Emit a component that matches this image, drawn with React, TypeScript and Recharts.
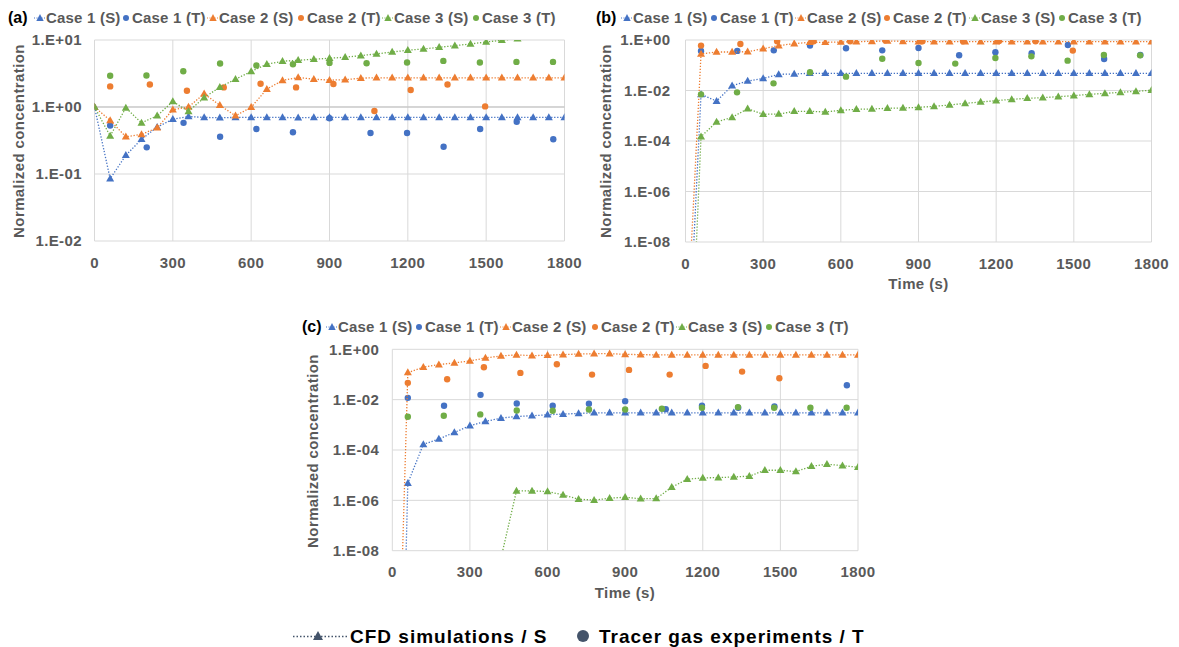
import React from 'react';
import { ScatterChart, Scatter, XAxis, YAxis, CartesianGrid, ReferenceLine } from 'recharts';

const FONT = '"Liberation Sans", Arial, Helvetica, sans-serif';
const BLUE = '#4472C4';
const ORANGE = '#ED7D31';
const GREEN = '#70AD47';
const LEGEND_DARK = '#44546A';
const TEXT_GRAY = '#595959';

// ---- categories / tick labels ----
const simTimes = [0, 60, 120, 180, 240, 300, 360, 420, 480, 540, 600, 660, 720, 780, 840, 900, 960, 1020, 1080, 1140, 1200, 1260, 1320, 1380, 1440, 1500, 1560, 1620, 1680, 1740, 1800];
const tracerTimes1 = [60, 200, 341, 481, 620, 760, 900, 1057, 1197, 1337, 1477, 1617, 1757];
const tracerTimes2 = [60, 212, 354, 495, 636, 772, 915, 1072, 1211, 1352, 1496];
const tracerTimes3 = [60, 199, 340, 481, 620, 760, 900, 1042, 1197, 1336, 1476, 1616, 1756];
const xTicks = [0, 300, 600, 900, 1200, 1500, 1800];
const yTicksA = [0.01, 0.1, 1, 10];
const yTicksBC = [1e-8, 1e-6, 1e-4, 1e-2, 1];
const legendNames = ['Case 1 (S)', 'Case 1 (T)', 'Case 2 (S)', 'Case 2 (T)', 'Case 3 (S)', 'Case 3 (T)'];

// ---- panel (a) ----
const aCase1S = [1, 0.085, 0.19, 0.33, 0.5, 0.66, 0.72, 0.7, 0.69, 0.7, 0.7, 0.7, 0.7, 0.69, 0.7, 0.7, 0.7, 0.7, 0.7, 0.7, 0.7, 0.7, 0.7, 0.7, 0.7, 0.7, 0.7, 0.7, 0.7, 0.7, 0.7];
const aCase1T = [0.53, 0.25, 0.58, 0.36, 0.47, 0.42, 0.68, 0.41, 0.41, 0.255, 0.47, 0.6, 0.33];
const aCase2S = [1, 0.63, 0.36, 0.39, 0.49, 0.91, 1.0, 1.58, 1.06, 0.74, 0.99, 1.85, 2.49, 2.76, 2.6, 2.52, 2.55, 2.7, 2.73, 2.73, 2.73, 2.73, 2.73, 2.73, 2.73, 2.73, 2.73, 2.73, 2.73, 2.73, 2.73];
const aCase2T = [2.03, 2.17, 1.75, 1.96, 2.22, 1.96, 2.2, 0.87, 1.79, 2.17, 1.02];
const aCase3S = [1, 0.37, 0.97, 0.58, 0.74, 1.21, 0.86, 1.38, 1.98, 2.6, 3.39, 4.35, 4.82, 4.99, 5.16, 5.34, 5.53, 5.85, 6.2, 6.63, 7.03, 7.35, 7.78, 8.24, 8.73, 9.34, 9.89, 10.5, 11.1, 11.7, 12.3];
const aCase3T = [2.92, 2.95, 3.42, 4.45, 4.16, 4.35, 4.55, 4.5, 4.61, 4.88, 4.61, 4.71, 4.71];

// ---- panel (b) ----
const bCase1S = [2e-15, 0.007, 0.0038, 0.0155, 0.0238, 0.03, 0.0437, 0.045, 0.048, 0.048, 0.048, 0.048, 0.048, 0.048, 0.048, 0.048, 0.048, 0.048, 0.048, 0.048, 0.048, 0.048, 0.048, 0.048, 0.048, 0.048, 0.048, 0.048, 0.048, 0.048, 0.048];
const bCase1T = [0.37, 0.37, 0.39, 0.6, 0.47, 0.39, 0.48, 0.25, 0.325, 0.3, 0.63, 0.177, 0.255];
const bCase2S = [2e-13, 0.28, 0.335, 0.335, 0.345, 0.45, 0.6, 0.72, 0.81, 0.81, 0.83, 0.86, 0.885, 0.91, 0.885, 0.86, 0.86, 0.86, 0.86, 0.86, 0.86, 0.86, 0.86, 0.86, 0.86, 0.86, 0.86, 0.86, 0.86, 0.86, 0.86];
const bCase2T = [0.6, 0.69, 0.885, 0.885, 0.885, 0.97, 0.885, 0.885, 0.91, 0.885, 0.38];
const bCase3S = [1e-18, 1.49e-4, 5.65e-4, 8.65e-4, 1.91e-3, 1.14e-3, 1.17e-3, 1.5e-3, 1.5e-3, 1.41e-3, 1.64e-3, 1.8e-3, 1.85e-3, 1.97e-3, 2.03e-3, 2.15e-3, 2.36e-3, 2.67e-3, 3.1e-3, 3.51e-3, 3.96e-3, 4.47e-3, 4.9e-3, 5.2e-3, 5.7e-3, 6.24e-3, 7.05e-3, 7.7e-3, 8.46e-3, 9.27e-3, 1.02e-2];
const bCase3T = [7.05e-3, 8.46e-3, 0.0192, 0.0525, 0.0353, 0.182, 0.123, 0.116, 0.194, 0.225, 0.152, 0.255, 0.247];

// ---- panel (c) ----
const cCase1S = [1e-30, 4.8e-6, 1.68e-4, 2.73e-4, 5.0e-4, 9.2e-4, 1.37e-3, 1.85e-3, 2.15e-3, 2.29e-3, 2.51e-3, 2.67e-3, 2.83e-3, 3.0e-3, 3.0e-3, 3.0e-3, 3.0e-3, 3.0e-3, 3.0e-3, 3.0e-3, 3.0e-3, 3.0e-3, 3.0e-3, 3.0e-3, 3.0e-3, 3.0e-3, 3.0e-3, 3.0e-3, 3.0e-3, 3.0e-3, 3.0e-3];
const cCase1T = [0.0118, 5.7e-3, 0.0155, 7.05e-3, 5.7e-3, 6.84e-3, 8.7e-3, 4.2e-3, 5.7e-3, 4.75e-3, 5.36e-3, null, 0.0375];
const cCase2S = [1e-22, 0.119, 0.194, 0.247, 0.288, 0.345, 0.454, 0.545, 0.6, 0.56, 0.58, 0.615, 0.65, 0.67, 0.67, 0.63, 0.615, 0.6, 0.6, 0.6, 0.6, 0.6, 0.6, 0.6, 0.6, 0.6, 0.6, 0.6, 0.6, 0.6, 0.6];
const cCase2T = [0.0464, 0.0649, 0.194, 0.1155, 0.255, 0.099, 0.152, 0.099, 0.219, 0.13, 0.071];
const cCase3S = [1e-30, 1e-30, 1e-30, 1e-30, 1e-30, 1e-30, 1e-30, 5e-9, 2.38e-6, 2.38e-6, 2.24e-6, 1.65e-6, 1.11e-6, 1.02e-6, 1.22e-6, 1.33e-6, 1.15e-6, 1.18e-6, 3.32e-6, 6.9e-6, 7.8e-6, 8.0e-6, 8.5e-6, 9.1e-6, 1.57e-5, 1.57e-5, 1.39e-5, 2.26e-5, 2.71e-5, 2.4e-5, 2.06e-5];
const cCase3T = [2.09e-3, 2.29e-3, 2.59e-3, 3.72e-3, 3.61e-3, 4.08e-3, 4.08e-3, 4.34e-3, 4.75e-3, 5.05e-3, 4.75e-3, 4.75e-3, 4.75e-3];

type Pt = { x: number; y: number };
const zip = (ts: number[], vs: (number | null)[]): Pt[] =>
  ts.map((t, i) => ({ x: t, y: vs[i] as number })).filter((p) => p.y != null);

interface SeriesDef {
  color: string;
  kind: 'S' | 'T';
  data: Pt[];
}

const makeSeries = (s1: number[], t1: (number | null)[], s2: number[], t2: number[], s3: number[], t3: number[]): SeriesDef[] => [
  { color: BLUE, kind: 'S', data: zip(simTimes, s1) },
  { color: BLUE, kind: 'T', data: zip(tracerTimes1, t1) },
  { color: ORANGE, kind: 'S', data: zip(simTimes, s2) },
  { color: ORANGE, kind: 'T', data: zip(tracerTimes2, t2) },
  { color: GREEN, kind: 'S', data: zip(simTimes, s3) },
  { color: GREEN, kind: 'T', data: zip(tracerTimes3, t3) },
];

const seriesA = makeSeries(aCase1S, aCase1T, aCase2S, aCase2T, aCase3S, aCase3T);
const seriesB = makeSeries(bCase1S, bCase1T, bCase2S, bCase2T, bCase3S, bCase3T);
const seriesC = makeSeries(cCase1S, cCase1T, cCase2S, cCase2T, cCase3S, cCase3T);

const triShape = (color: string) => (p: any) => {
  const { cx, cy } = p;
  if (!Number.isFinite(cx) || !Number.isFinite(cy)) return <g />;
  const w = 8;
  const h = 7;
  return <polygon points={`${cx},${cy - h * 0.6} ${cx - w / 2},${cy + h * 0.4} ${cx + w / 2},${cy + h * 0.4}`} fill={color} />;
};
const dotShape = (color: string) => (p: any) => {
  const { cx, cy } = p;
  if (!Number.isFinite(cx) || !Number.isFinite(cy)) return <g />;
  return <circle cx={cx} cy={cy} r={3.2} fill={color} />;
};

const fmtExp = (v: number) => {
  const e = Math.round(Math.log10(v));
  return `1.E${e < 0 ? '-' : '+'}${String(Math.abs(e)).padStart(2, '0')}`;
};

const tickStyle = { fill: TEXT_GRAY, fontSize: 15, fontWeight: 700, fontFamily: FONT, letterSpacing: 0.4 };

interface PanelProps {
  box: { l: number; t: number; w: number; h: number };
  plot: { l: number; t: number; r: number; b: number };
  yDomain: [number, number];
  yTicks: number[];
  series: SeriesDef[];
  tickGap: number;
  axisAt1?: boolean;
}

function Panel({ box, plot, yDomain, yTicks, series, tickGap, axisAt1 }: PanelProps) {
  const xAxisH = 30;
  const margin = {
    top: plot.t - box.t,
    right: box.l + box.w - plot.r,
    left: 0,
    bottom: box.t + box.h - plot.b - xAxisH,
  };
  return (
    <div style={{ position: 'absolute', left: box.l, top: box.t }}>
      <ScatterChart width={box.w} height={box.h} margin={margin}>
        <CartesianGrid stroke="#D9D9D9" strokeWidth={1} />
        <XAxis
          type="number"
          dataKey="x"
          domain={[0, 1800]}
          ticks={xTicks}
          interval={0}
          allowDataOverflow
          axisLine={false}
          tickLine={false}
          tickSize={0}
          tickMargin={16}
          height={xAxisH}
          tick={tickStyle}
        />
        <YAxis
          type="number"
          dataKey="y"
          scale="log"
          domain={yDomain}
          ticks={yTicks}
          interval={0}
          allowDataOverflow
          axisLine={false}
          tickLine={false}
          tickSize={0}
          tickMargin={tickGap}
          width={plot.l - box.l}
          tick={tickStyle}
          tickFormatter={fmtExp}
        />
        {axisAt1 && <ReferenceLine y={1} stroke="#BFBFBF" strokeWidth={1} />}
        {series.map((s, i) => (
          <Scatter
            key={i}
            data={s.data}
            fill={s.color}
            shape={s.kind === 'S' ? triShape(s.color) : dotShape(s.color)}
            line={s.kind === 'S' ? { stroke: s.color, strokeWidth: 1.3, strokeDasharray: '1.3 1.7' } : false}
            lineType="joint"
            isAnimationActive={false}
          />
        ))}
      </ScatterChart>
    </div>
  );
}

const LegendMarker = ({ color, kind }: { color: string; kind: 'S' | 'T' }) => (
  <svg width={12} height={10} style={{ display: 'block', flex: 'none' }}>
    {kind === 'S' ? (
      <>
        <line x1={0} y1={5} x2={12} y2={5} stroke={color} strokeWidth={1} strokeDasharray="1 1.5" />
        <polygon points="6,1 2.3,8 9.7,8" fill={color} />
      </>
    ) : (
      <circle cx={6} cy={5} r={3} fill={color} />
    )}
  </svg>
);

const legendColors = [BLUE, BLUE, ORANGE, ORANGE, GREEN, GREEN];
const legendKinds: ('S' | 'T')[] = ['S', 'T', 'S', 'T', 'S', 'T'];

function PanelLegend({ label, labelX, centers, y }: { label: string; labelX: number; centers: number[]; y: number }) {
  return (
    <>
      <div
        style={{
          position: 'absolute',
          left: labelX,
          top: y - 10,
          lineHeight: '20px',
          fontFamily: FONT,
          fontWeight: 700,
          fontSize: 16,
          color: '#000',
          whiteSpace: 'nowrap',
        }}
      >
        {label}
      </div>
      {centers.map((c, i) => (
        <div
          key={i}
          style={{
            position: 'absolute',
            left: c - 6,
            top: y - 10,
            height: 20,
            display: 'flex',
            alignItems: 'center',
            fontFamily: FONT,
            fontWeight: 700,
            fontSize: 15,
            lineHeight: '20px',
            letterSpacing: 0.2,
            color: TEXT_GRAY,
            whiteSpace: 'nowrap',
          }}
        >
          <LegendMarker color={legendColors[i]} kind={legendKinds[i]} />
          <span>{legendNames[i]}</span>
        </div>
      ))}
    </>
  );
}

function YTitle({ cx, cy }: { cx: number; cy: number }) {
  return (
    <div
      style={{
        position: 'absolute',
        left: cx,
        top: cy,
        transform: 'translate(-50%, -50%) rotate(-90deg)',
        fontFamily: FONT,
        fontWeight: 700,
        fontSize: 15,
        lineHeight: '20px',
        letterSpacing: 0.4,
        color: TEXT_GRAY,
        whiteSpace: 'nowrap',
      }}
    >
      Normalized concentration
    </div>
  );
}

function XTitle({ cx, cy }: { cx: number; cy: number }) {
  return (
    <div
      style={{
        position: 'absolute',
        left: cx,
        top: cy,
        transform: 'translate(-50%, -50%)',
        fontFamily: FONT,
        fontWeight: 700,
        fontSize: 15,
        lineHeight: '20px',
        letterSpacing: 0.4,
        color: TEXT_GRAY,
        whiteSpace: 'nowrap',
      }}
    >
      Time (s)
    </div>
  );
}

export default function App() {
  return (
    <div style={{ position: 'absolute', left: 0, top: 0, width: 1179, height: 647, background: '#fff', overflow: 'hidden' }}>
      <Panel
        box={{ l: 0, t: 0, w: 595, h: 290 }}
        plot={{ l: 94.5, t: 40, r: 564.5, b: 241 }}
        yDomain={[0.01, 10]}
        yTicks={yTicksA}
        series={seriesA}
        tickGap={12.5}
        axisAt1
      />
      <Panel
        box={{ l: 590, t: 0, w: 585, h: 300 }}
        plot={{ l: 685.5, t: 40, r: 1151.5, b: 242 }}
        yDomain={[1e-8, 1]}
        yTicks={yTicksBC}
        series={seriesB}
        tickGap={15}
      />
      <Panel
        box={{ l: 296, t: 310, w: 600, h: 300 }}
        plot={{ l: 392.3, t: 349.3, r: 858, b: 550.7 }}
        yDomain={[1e-8, 1]}
        yTicks={yTicksBC}
        series={seriesC}
        tickGap={13}
      />

      <PanelLegend label="(a)" labelX={8} centers={[40, 126, 213, 301, 388, 476]} y={17.5} />
      <PanelLegend label="(b)" labelX={596} centers={[627, 714, 801, 887, 975, 1062]} y={17.5} />
      <PanelLegend label="(c)" labelX={302} centers={[332, 419, 506, 595, 682, 769]} y={326.5} />

      <YTitle cx={19} cy={140.5} />
      <YTitle cx={606} cy={141} />
      <YTitle cx={312.5} cy={451} />
      <XTitle cx={918.5} cy={283.8} />
      <XTitle cx={625} cy={592.5} />

      {/* global legend */}
      <svg style={{ position: 'absolute', left: 290, top: 626 }} width={60} height={20}>
        <line x1={3} y1={10.5} x2={57} y2={10.5} stroke={LEGEND_DARK} strokeWidth={1.5} strokeDasharray="1.5 2" />
        <polygon points="28,5 23,14 33,14" fill={LEGEND_DARK} />
      </svg>
      <div
        style={{
          position: 'absolute',
          left: 350,
          top: 626.5,
          lineHeight: '20px',
          fontFamily: FONT,
          fontWeight: 700,
          fontSize: 19,
          letterSpacing: 1,
          color: '#000',
          whiteSpace: 'nowrap',
        }}
      >
        CFD simulations / S
      </div>
      <svg style={{ position: 'absolute', left: 575, top: 628 }} width={16} height={16}>
        <circle cx={8} cy={8} r={6} fill={LEGEND_DARK} />
      </svg>
      <div
        style={{
          position: 'absolute',
          left: 599,
          top: 626.5,
          lineHeight: '20px',
          fontFamily: FONT,
          fontWeight: 700,
          fontSize: 19,
          letterSpacing: 1,
          color: '#000',
          whiteSpace: 'nowrap',
        }}
      >
        Tracer gas experiments / T
      </div>
    </div>
  );
}
